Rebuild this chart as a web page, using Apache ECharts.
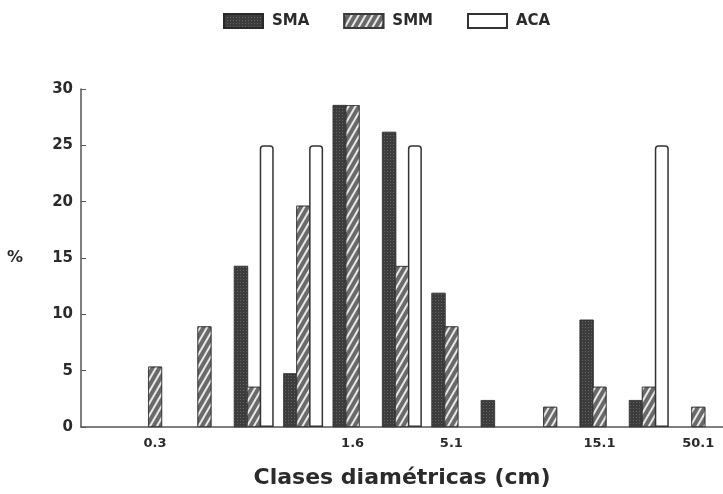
<!DOCTYPE html>
<html>
<head>
<meta charset="utf-8">
<script src="https://cdn.jsdelivr.net/npm/echarts@6/dist/echarts.min.js"></script>
<style>
  html, body { margin: 0; padding: 0; background: #ffffff; }
  #chart { width: 723px; height: 494px; }
</style>
</head>
<body>
<div id="chart"></div>
<script>
// Diameter classes (only some are labelled on the axis)
const classes = ['', '0.3', '', '', '', '1.6', '', '5.1', '', '', '15.1', '', '50.1'];
// Percentage of stems per diameter class
const sma = [0, 0, 0, 14.29, 4.76, 28.57, 26.19, 11.9, 2.38, 0, 9.52, 2.38, 0];
const smm = [0, 5.36, 8.93, 3.57, 19.64, 28.57, 14.29, 8.93, 0, 1.79, 3.57, 3.57, 1.79];
const aca = [0, 0, 0, 25, 25, 0, 25, 0, 0, 0, 0, 25, 0];
const yTicks = [0, 5, 10, 15, 20, 25, 30];

const ink = '#2b2b2b';
const font = '"DejaVu Sans", Verdana, sans-serif';

// empty classes get no bar at all
const bars = arr => arr.map(v => (v === 0 ? '-' : v));

const chart = echarts.init(document.getElementById('chart'), null, { renderer: 'canvas' });

chart.setOption({
  animation: false,
  backgroundColor: '#ffffff',
  legend: {
    top: 8,
    left: 218,
    icon: 'rect',
    itemWidth: 39,
    itemHeight: 14,
    itemGap: 34,
    textStyle: {
      color: ink, fontFamily: font, fontWeight: 'bold', fontSize: 15,
      padding: [0, 0, 0, 4]
    },
    data: ['SMA', 'SMM', 'ACA']
  },
  grid: { left: 81, right: 0, top: 89, bottom: 67, containLabel: false },
  xAxis: {
    type: 'category',
    data: classes,
    name: 'Clases diamétricas (cm)',
    nameLocation: 'middle',
    nameGap: 40,
    nameTextStyle: { color: ink, fontFamily: font, fontWeight: 'bold', fontSize: 22 },
    axisLine: { lineStyle: { color: '#555', width: 1.5 } },
    axisTick: { show: false },
    axisLabel: { interval: 0, color: ink, fontFamily: font, fontWeight: 'bold', fontSize: 13, margin: 10 }
  },
  yAxis: {
    type: 'value',
    min: yTicks[0],
    max: yTicks[yTicks.length - 1],
    interval: 5,
    name: '%',
    nameLocation: 'middle',
    nameRotate: 0,
    nameGap: 58,
    nameTextStyle: { color: ink, fontFamily: font, fontWeight: 'bold', fontSize: 16 },
    axisLine: { show: true, lineStyle: { color: '#555', width: 1.5 } },
    axisTick: { show: true, inside: true, length: 5, lineStyle: { color: '#555' } },
    splitLine: { show: false },
    axisLabel: { color: ink, fontFamily: font, fontWeight: 'bold', fontSize: 15, margin: 8 }
  },
  series: [
    {
      name: 'SMA',
      type: 'bar',
      data: bars(sma),
      barWidth: 14,
      barGap: '-8%',
      itemStyle: {
        color: '#3c3c3c',
        borderColor: '#2a2a2a',
        borderWidth: 0.5,
        decal: {
          symbol: 'rect',
          symbolSize: 1,
          color: 'rgba(150,150,150,0.45)',
          dashArrayX: [1, 2],
          dashArrayY: [1, 2]
        }
      }
    },
    {
      name: 'SMM',
      type: 'bar',
      data: bars(smm),
      barWidth: 14,
      itemStyle: {
        color: '#6a6a6a',
        borderColor: '#3a3a3a',
        borderWidth: 0.8,
        decal: {
          symbol: 'rect',
          symbolSize: 1,
          color: 'rgba(255,255,255,0.85)',
          dashArrayX: [1, 0],
          dashArrayY: [1.5, 3.5],
          rotation: -Math.PI / 3
        }
      }
    },
    {
      name: 'ACA',
      type: 'bar',
      data: bars(aca),
      barWidth: 14,
      itemStyle: {
        color: '#ffffff',
        borderColor: '#333333',
        borderWidth: 1.5,
        borderRadius: [3, 3, 0, 0]
      }
    }
  ]
});
</script>
</body>
</html>
